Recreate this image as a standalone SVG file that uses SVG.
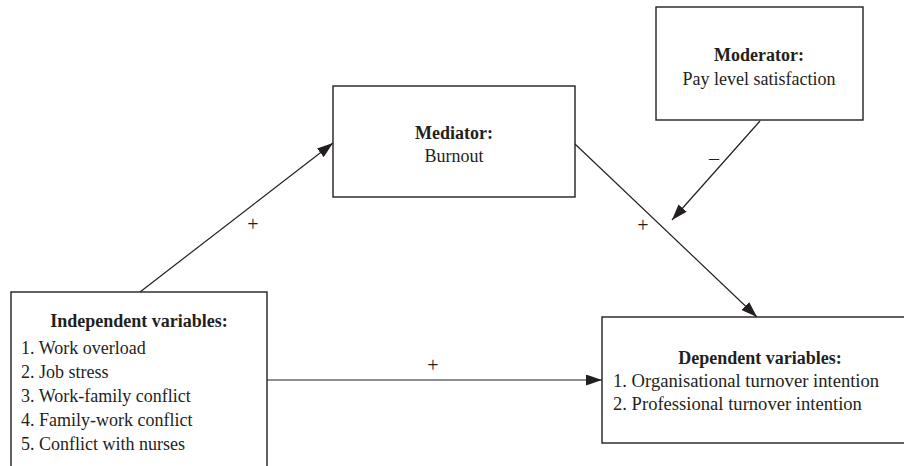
<svg xmlns="http://www.w3.org/2000/svg" width="904" height="466" viewBox="0 0 904 466">
  <style>
    .box { fill: #ffffff; stroke: #231f20; stroke-width: 1.4; }
    .link { fill: none; stroke: #231f20; stroke-width: 1.2; marker-end: url(#arrow); }
    text { font-family: "Liberation Serif", "DejaVu Serif", serif; font-size: 18px; fill: #231f20; }
    .head { font-weight: bold; }
    .mid { text-anchor: middle; }
    .item { font-size: 18.6px; }
    .sign { font-size: 20px; text-anchor: middle; }
  </style>
  <defs>
    <marker id="arrow" viewBox="0 0 16 11" refX="16" refY="5.5" markerWidth="16" markerHeight="11" markerUnits="userSpaceOnUse" orient="auto">
      <path d="M0,0 L16,5.5 L0,11 Z" fill="#231f20"/>
    </marker>
  </defs>
  <rect width="904" height="466" fill="#ffffff"/>

  <!-- connectors -->
  <g id="connectors">
    <line class="link" x1="140" y1="292" x2="333" y2="143"/>
    <line class="link" x1="575" y1="144" x2="757" y2="317"/>
    <line class="link" x1="760" y1="121" x2="672" y2="220"/>
    <line class="link" x1="267" y1="380" x2="602" y2="380"/>
    <text class="sign" x="253" y="231">+</text>
    <text class="sign" x="643" y="232">+</text>
    <text class="sign" x="433" y="372">+</text>
    <text class="sign" x="714" y="165">–</text>
  </g>

  <!-- mediator -->
  <g id="mediator">
    <rect class="box" x="333" y="86" width="242" height="111"/>
    <text class="head mid" x="454" y="139">Mediator:</text>
    <text class="mid" x="454" y="162">Burnout</text>
  </g>

  <!-- moderator -->
  <g id="moderator">
    <rect class="box" x="656" y="7" width="207" height="113"/>
    <text class="head mid" x="759" y="61">Moderator:</text>
    <text class="mid" x="759" y="85">Pay level satisfaction</text>
  </g>

  <!-- independent variables -->
  <g id="independent">
    <rect class="box" x="11" y="292" width="256" height="190"/>
    <text class="head mid" x="139" y="327">Independent variables:</text>
    <text x="21" y="354">1. Work overload</text>
    <text x="21" y="378">2. Job stress</text>
    <text x="21" y="402">3. Work-family conflict</text>
    <text x="21" y="426">4. Family-work conflict</text>
    <text x="21" y="450">5. Conflict with nurses</text>
  </g>

  <!-- dependent variables -->
  <g id="dependent">
    <rect class="box" x="602" y="317" width="320" height="126"/>
    <text class="head mid" x="760" y="364">Dependent variables:</text>
    <text class="item" x="613" y="387">1. Organisational turnover intention</text>
    <text class="item" x="613" y="410">2. Professional turnover intention</text>
  </g>
</svg>
